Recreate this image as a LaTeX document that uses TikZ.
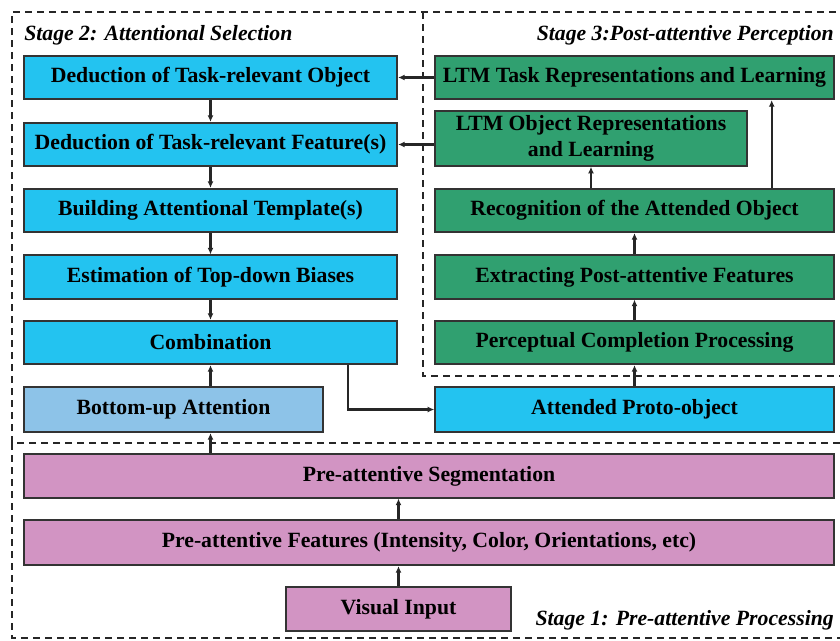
\documentclass[tikz,border=0pt]{standalone}
\usepackage{fontspec}
\setmainfont{Liberation Serif}
\usetikzlibrary{arrows.meta}
\usetikzlibrary{calc}

\definecolor{stageblue}{RGB}{35,195,240}
\definecolor{lightblue}{RGB}{141,195,232}
\definecolor{stagegreen}{RGB}{48,160,112}
\definecolor{stagepink}{RGB}{210,148,195}

\tikzset{
    box/.style = {draw=black!80, line width=1.3pt, minimum height=32.5pt, inner sep=0pt,
                  align=center, font=\fontsize{16.3}{19}\selectfont\bfseries},
    bluebox/.style = {box, fill=stageblue, minimum width=280pt},
    greenbox/.style = {box, fill=stagegreen, minimum width=299pt},
    pinkbox/.style = {box, fill=stagepink, minimum width=607pt},
    frame/.style = {black!85, line width=1.9pt, dash pattern=on 5.5pt off 3.5pt},
    arr/.style = {-{Latex[length=5pt,width=4.5pt]}, line width=1.6pt, black!85},
    stagelabel/.style = {font=\fontsize{16.3}{17}\selectfont\bfseries\itshape, inner sep=0pt}
}

\begin{document}
\begin{tikzpicture}[x=0.75pt,y=-0.75pt]
            \useasboundingbox (0,0) rectangle (840,640);
            \draw[frame] (12,443) -- (12,12) -- (840,12);
            \draw[frame] (423,12) -- (423,376) -- (840,376);
            \draw[frame] (840,443) -- (12,443) -- (12,638) -- (840,638);
            \node[stagelabel, anchor=west] (stagetwo) at (24,35) {Stage 2: Attentional Selection};
            \node[stagelabel, anchor=east] (stagethree) at (834,35) {Stage 3:Post-attentive Perception};
            \node[stagelabel, anchor=east] (stageone) at (834,620) {Stage 1: Pre-attentive Processing};
            \node[bluebox] (dedobj) at (210.5,77.5) {Deduction of Task-relevant Object};
            \node[bluebox] (dedfeat) at (210.5,144.5) {Deduction of Task-relevant Feature(s)};
            \node[bluebox] (template) at (210.5,210.5) {Building Attentional Template(s)};
            \node[bluebox] (biases) at (210.5,277) {Estimation of Top-down Biases};
            \node[bluebox] (comb) at (210.5,342.5) {Combination};
            \node[box, fill=lightblue, minimum width=224pt, minimum height=34pt] (bottomup) at (173.5,409.5) {Bottom-up Attention};
            \node[greenbox] (ltmtask) at (634.5,77.5) {LTM Task Representations and Learning};
            \node[box, fill=stagegreen, minimum width=234pt, minimum height=41pt] (ltmobj) at (591,138.5) {LTM Object Representations\\and Learning};
            \node[greenbox] (recog) at (634.5,210.5) {Recognition of the Attended Object};
            \node[greenbox] (extract) at (634.5,277) {Extracting Post-attentive Features};
            \node[greenbox] (percept) at (634.5,342.5) {Perceptual Completion Processing};
            \node[box, fill=stageblue, minimum width=299pt, minimum height=34pt] (proto) at (634.5,409.5) {Attended Proto-object};
            \node[pinkbox] (seg) at (429,476) {Pre-attentive Segmentation};
            \node[pinkbox, minimum height=34pt] (feat) at (429,542.5) {Pre-attentive Features (Intensity, Color, Orientations, etc)};
            \node[box, fill=stagepink, minimum width=169pt, minimum height=33pt] (input) at (398.5,609) {Visual Input};
            \coordinate (bend) at (348,408);
            \draw[arr] (dedobj) -- (dedfeat);
            \draw[arr] (dedfeat) -- (template);
            \draw[arr] (template) -- (biases);
            \draw[arr] (biases) -- (comb);
            \draw[arr] (bottomup.north -| comb) -- (comb.south);
            \draw[arr] (seg.north -| comb) -- (bottomup.south -| comb);
            \draw[arr] (input.north) -- (feat.south -| input);
            \draw[arr] (feat.north -| input) -- (seg.south -| input);
            \draw[arr] (comb.south -| bend) |- (proto.west);
            \draw[arr] (proto) -- (percept);
            \draw[arr] (percept) -- (extract);
            \draw[arr] (extract) -- (recog);
            \draw[arr] (recog.north -| ltmobj) -- (ltmobj.south);
            \draw[arr] ($(recog.north east)+(-63,0)$) coordinate (up) -- (up |- ltmtask.south);
            \draw[arr] (ltmtask.west) -- (dedobj.east);
            \draw[arr] (ltmobj.west |- dedfeat.east) -- (dedfeat.east);
        \end{tikzpicture}
\end{document}
